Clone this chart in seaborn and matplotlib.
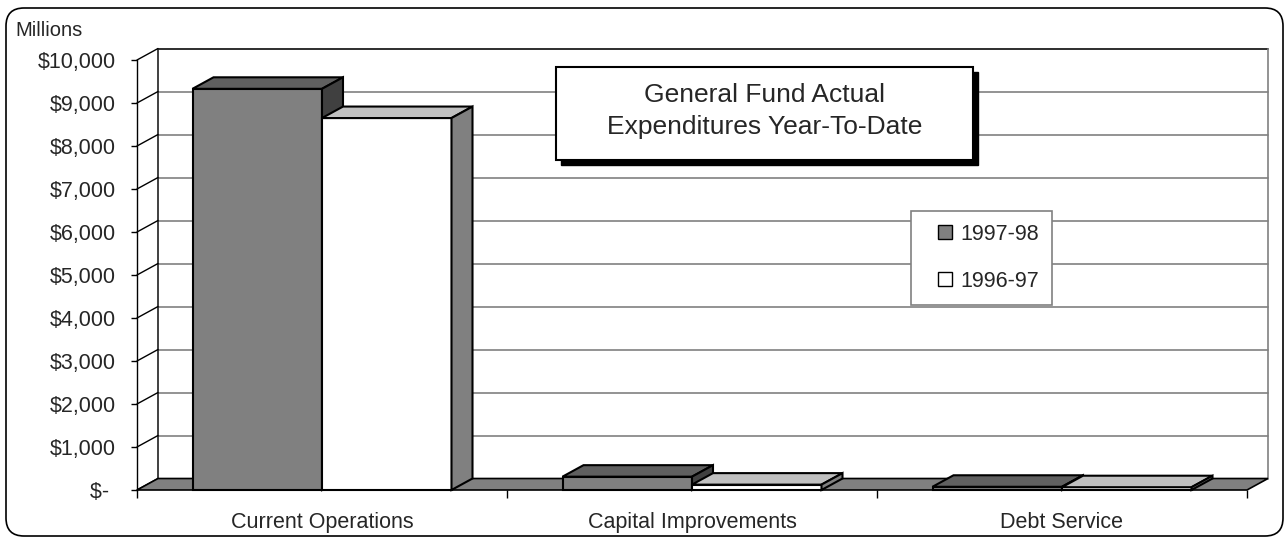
import numpy as np
import pandas as pd
import seaborn as sns
import matplotlib.pyplot as plt
from matplotlib.patches import Polygon, Rectangle, FancyBboxPatch
from matplotlib.lines import Line2D
from matplotlib.transforms import IdentityTransform
from matplotlib.colors import to_hex

categories = ['Current Operations', 'Capital Improvements', 'Debt Service']
years = ['1997-98', '1996-97']
exp_9798 = [9330, 310, 75]
exp_9697 = [8650, 125, 65]
ytick_vals = list(range(0, 10001, 1000))
ytick_labels = ['$- '] + ['${:,}'.format(v) for v in ytick_vals[1:]]

df = pd.DataFrame({
    'category': categories * 2,
    'year': [years[0]] * 3 + [years[1]] * 3,
    'value': exp_9798 + exp_9697,
})

sns.set_theme(style='white')
plt.rcParams['font.family'] = ['Liberation Sans', 'DejaVu Sans']

W, H = 1288, 541
fig = plt.figure(figsize=(W / 100, H / 100), dpi=100)
ax = fig.add_axes([137 / W, 51 / H, 1110 / W, 430 / H])

front = {'1997-98': '#808080', '1996-97': '#ffffff'}
shade = {'#808080': ('#606060', '#404040'), '#ffffff': ('#c0c0c0', '#808080')}

sns.barplot(data=df, x='category', y='value', hue='year', hue_order=years,
            palette=front, saturation=1, width=0.70, edgecolor='black',
            linewidth=1.5, errorbar=None, legend=False, ax=ax)
bars = sorted([p for p in ax.patches if isinstance(p, Rectangle)],
              key=lambda p: p.get_x())

ax.set_xlim(-0.5, 2.5)
ax.set_ylim(0, 10000)

# depth of the 3d box in data units (about 21 px right, 11.5 px up)
dx = 21 / 370
dy = 11.5 / 430 * 10000

# back wall + gridlines
ax.add_patch(Rectangle((-0.5 + dx, dy), 3, 10000, fc='white', ec='none',
                       clip_on=False, zorder=0.2))
for v in ytick_vals[1:]:
    ax.plot([-0.5 + dx, 2.5 + dx], [v + dy, v + dy], color='#808080', lw=1.2,
            clip_on=False, zorder=0.5)
ax.plot([-0.5 + dx, -0.5 + dx, 2.5 + dx], [dy, 10000 + dy, 10000 + dy],
        color='#202020', lw=1.2, clip_on=False, zorder=0.6)
ax.plot([2.5 + dx, 2.5 + dx], [dy, 10000 + dy], color='#808080', lw=1.2,
        clip_on=False, zorder=0.6)

# left wall connectors
for v in ytick_vals:
    ax.plot([-0.5, -0.5 + dx], [v, v + dy], color='black', lw=1,
            clip_on=False, zorder=0.7)

# floor
ax.add_patch(Polygon([(-0.5, 0), (2.5, 0), (2.5 + dx, dy), (-0.5 + dx, dy)],
                     closed=True, fc='#808080', ec='black', lw=1.2,
                     clip_on=False, zorder=1))

# 3d tops and sides for each bar
for i, p in enumerate(bars):
    z = 2 + i
    x0, w, h = p.get_x(), p.get_width(), p.get_height()
    top_c, side_c = shade[to_hex(p.get_facecolor())]
    p.set_zorder(z)
    p.set_clip_on(False)
    ax.add_patch(Polygon([(x0, h), (x0 + w, h), (x0 + w + dx, h + dy), (x0 + dx, h + dy)],
                         closed=True, fc=top_c, ec='black', lw=1.5,
                         clip_on=False, zorder=z + 0.1))
    ax.add_patch(Polygon([(x0 + w, 0), (x0 + w + dx, dy), (x0 + w + dx, h + dy), (x0 + w, h)],
                         closed=True, fc=side_c, ec='black', lw=1.5,
                         clip_on=False, zorder=z + 0.2))

for s in ['top', 'right', 'bottom']:
    ax.spines[s].set_visible(False)
ax.spines['left'].set_color('black')
ax.spines['left'].set_linewidth(1)

ax.set_yticks(ytick_vals, ytick_labels)
ax.tick_params(axis='y', length=4, width=1, color='black', pad=11.5,
               labelsize=15.5, left=True)
ax.set_xticks([0, 1, 2], categories)
ax.set_xticks([-0.5, 0.5, 1.5, 2.5], minor=True)
ax.tick_params(axis='x', which='major', length=0, pad=15.5, labelsize=15.5)
ax.tick_params(axis='x', which='minor', length=5.5, width=1, color='black', bottom=True)
ax.set_xlabel('')
ax.set_ylabel('')

fig.text(15 / W, 1 - 30 / H, 'Millions', fontsize=14.5, va='center', ha='left')

# title box with shadow
fig.add_artist(Rectangle((561, H - 165), 417, 93, transform=IdentityTransform(),
                         fc='black', ec='black', zorder=5))
fig.add_artist(Rectangle((556, H - 160), 417, 93, transform=IdentityTransform(),
                         fc='white', ec='black', lw=1.5, zorder=6))
fig.text(764.5 / W, 1 - 111 / H, 'General Fund Actual\nExpenditures Year-To-Date',
         fontsize=19, ha='center', va='center', linespacing=1.44, zorder=7)

handles = [Line2D([], [], ls='none', marker='s', markersize=10.5,
                  mfc=front[y], mec='black', mew=1) for y in years]
leg = fig.legend(handles, years, loc='upper left',
                 bbox_to_anchor=(910.7 / W, 1 - 210.7 / H), borderaxespad=0,
                 frameon=True, fancybox=False, edgecolor='#808080',
                 fontsize=15.5, handlelength=1.95, handletextpad=-0.25,
                 labelspacing=1.22, borderpad=0.6)
leg.get_frame().set_linewidth(1.2)
leg.get_frame().set_alpha(1)

# outer rounded border
fig.add_artist(FancyBboxPatch((6, 5), 1277, 528,
                              boxstyle='round,pad=0,rounding_size=18',
                              transform=IdentityTransform(), fc='none',
                              ec='black', lw=1.2, zorder=10))

fig.savefig('out.png', dpi=100)
